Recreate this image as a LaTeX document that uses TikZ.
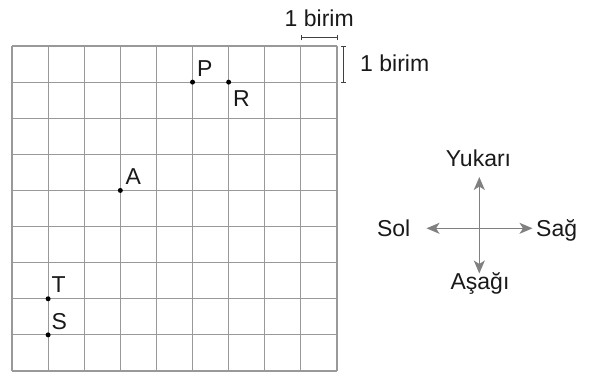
\documentclass[tikz,border=0pt]{standalone}
\usepackage{fontspec}
\setmainfont{Liberation Sans}
\usetikzlibrary{arrows.meta,calc}
\begin{document}
\begin{tikzpicture}[x=1pt,y=-1pt,
  gridline/.style={draw=black!40,line width=1.2pt},
  lbl/.style={inner sep=0pt,font=\fontsize{23}{26}\selectfont,text=black!90},
  dot/.style={circle,fill=black,inner sep=0pt,minimum size=5pt},
  scalebar/.style={draw=black!75,line width=0.9pt},
  compass/.style={draw=black!50,line width=1.4pt,-{Stealth[length=13pt,width=11pt,inset=3.5pt]}}]
\useasboundingbox (0,0) rectangle (593,372);
% grid
\foreach \i in {0,...,9}{
  \draw[gridline] ({12+\i*36.11},46) -- ({12+\i*36.11},371);
  \draw[gridline] (12,{46+\i*36.11}) -- (337,{46+\i*36.11});
}
% points
\node[dot] (P) at (192.55,82.11) {};
\node[dot] (R) at (228.66,82.11) {};
\node[dot] (A) at (120.33,190.44) {};
\node[dot] (T) at (48.11,298.77) {};
\node[dot] (S) at (48.11,334.88) {};
\node[lbl,anchor=base west] (Pl) at (197,76) {P};
\node[lbl,anchor=base west] (Rl) at (233,106) {R};
\node[lbl,anchor=base west] (Al) at (125.5,184.3) {A};
\node[lbl,anchor=base west] (Tl) at (51.5,292.5) {T};
\node[lbl,anchor=base west] (Sl) at (51.5,329) {S};
% scale bars
\coordinate (h1) at (301.5,37.7);
\coordinate (h2) at (337.5,37.7);
\draw[scalebar] (h1) -- (h2);
\draw[scalebar] ($(h1)+(0,-2.5)$) -- ($(h1)+(0,2.5)$);
\draw[scalebar] ($(h2)+(0,-2.5)$) -- ($(h2)+(0,2.5)$);
\coordinate (v1) at (343.3,46);
\coordinate (v2) at (343.3,82);
\draw[scalebar] (v1) -- (v2);
\draw[scalebar] ($(v1)+(-2.5,0)$) -- ($(v1)+(2.5,0)$);
\draw[scalebar] ($(v2)+(-2.5,0)$) -- ($(v2)+(2.5,0)$);
\node[lbl,anchor=base] (bh) at (319.2,26.7) {1 birim};
\node[lbl,anchor=base west] (bv) at (360,71.5) {1 birim};
% compass
\coordinate (C) at (479.3,228.3);
\coordinate (Cu) at (479.3,177);
\coordinate (Cd) at (479.3,273.5);
\coordinate (Cl) at (426.5,228.3);
\coordinate (Cr) at (532.5,228.3);
\draw[compass] (C) -- (Cu);
\draw[compass] (C) -- (Cd);
\draw[compass] (C) -- (Cl);
\draw[compass] (C) -- (Cr);
\node[lbl,anchor=base] (up) at (478.5,166.7) {Yukarı};
\node[lbl,anchor=base] (dn) at (480,289) {Aşağı};
\node[lbl,anchor=base east] (lt) at (410.5,236.7) {Sol};
\node[lbl,anchor=base west] (rt) at (536,236.7) {Sağ};
\end{tikzpicture}
\end{document}
